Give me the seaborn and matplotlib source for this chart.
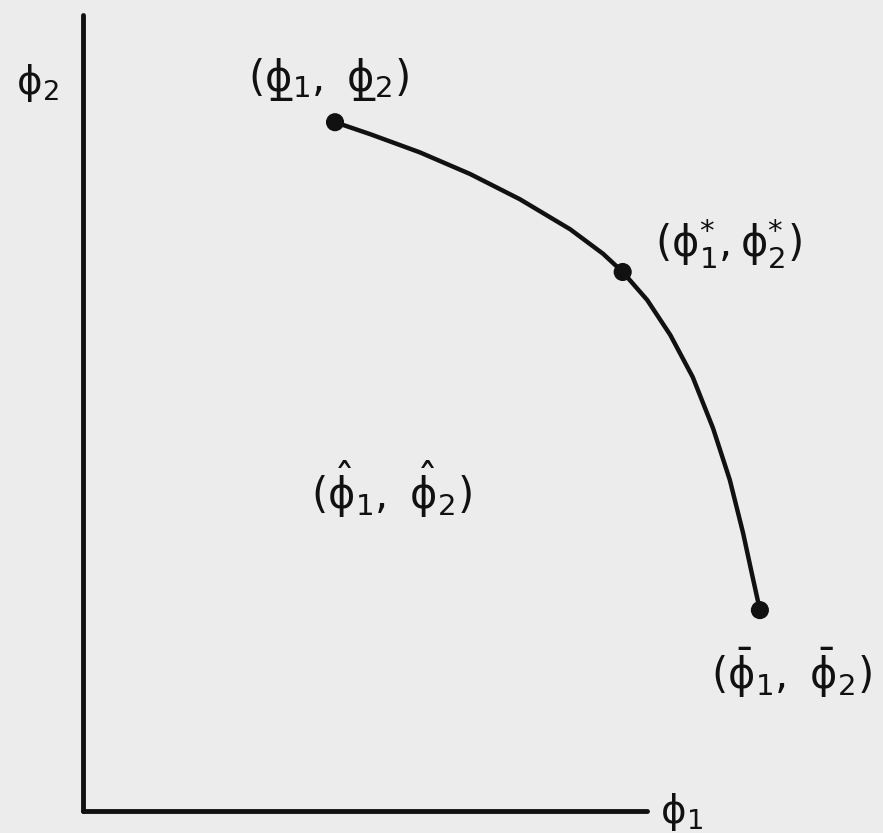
import matplotlib
matplotlib.use("Agg")
import matplotlib.pyplot as plt
from matplotlib.mathtext import MathTextParser
import seaborn as sns
import pandas as pd

# curve (phi1, phi2), 1 unit ~ 70 px
phi1 = [3.60, 4.10, 4.81, 5.53, 6.24, 6.96, 7.43, 7.71,
        8.06, 8.39, 8.71, 9.00, 9.24, 9.43, 9.56, 9.67]
phi2 = [9.84, 9.67, 9.41, 9.10, 8.74, 8.31, 7.96, 7.70,
        7.30, 6.80, 6.20, 5.47, 4.73, 3.97, 3.37, 2.87]

# marked points: lower bounds, compromise, upper bounds
pt_names = ["under", "star", "bar"]
pt_phi1 = [3.60, 7.71, 9.67]
pt_phi2 = [9.84, 7.70, 2.87]

labels = {
    "under": "$(\\phi\u0332_1,\\ \\phi\u0332_2)$",
    "star": r"$(\phi_1^{*},\phi_2^{*})$",
    "bar": r"$(\bar{\phi}_1,\ \bar{\phi}_2)$",
    "hat": r"$(\hat{\phi}_1,\ \hat{\phi}_2)$",
}
label_pos = {
    "under": (3.50, 10.45),
    "star": (9.22, 8.10),
    "bar": (10.12, 1.97),
    "hat": (4.40, 4.60),
}

sns.set_style("white")
plt.rcParams["mathtext.fontset"] = "dejavusans"
plt.rcParams["mathtext.default"] = "regular"

# fall back to plain unicode text if mathtext can't take the combining line
try:
    MathTextParser("agg").parse(labels["under"], 100)
except Exception:
    labels["under"] = "(\u03d5\u0332\u2081,  \u03d5\u0332\u2082)"

curve = pd.DataFrame({"phi1": phi1, "phi2": phi2})
pts = pd.DataFrame({"name": pt_names, "phi1": pt_phi1, "phi2": pt_phi2})

fig = plt.figure(figsize=(8.83, 8.33), dpi=100)
fig.patch.set_facecolor("#ececec")
ax = fig.add_axes([0, 0, 1, 1])
ax.set_facecolor("#ececec")

sns.lineplot(data=curve, x="phi1", y="phi2", sort=False, color="#111111",
             linewidth=3.2, ax=ax)
sns.scatterplot(data=pts, x="phi1", y="phi2", color="#111111", s=170,
                edgecolor="none", ax=ax, zorder=3)

for key, txt in labels.items():
    x, y = label_pos[key]
    ax.text(x, y, txt, fontsize=30, ha="center", va="center", color="#111111")

ax.text(-0.65, 10.4, r"$\phi_2$", fontsize=28, ha="center", va="center",
        color="#111111")
ax.text(8.55, -0.02, r"$\phi_1$", fontsize=28, ha="center", va="center",
        color="#111111")

ax.set_xlim(-83 / 70, 800 / 70)
ax.set_ylim(-22 / 70, 811 / 70)
ax.spines["left"].set_position(("data", 0))
ax.spines["bottom"].set_position(("data", 0))
ax.spines["left"].set_bounds(0, 11.37)
ax.spines["bottom"].set_bounds(0, 8.06)
for s in ["left", "bottom"]:
    ax.spines[s].set_linewidth(3.5)
    ax.spines[s].set_color("#111111")
    ax.spines[s].set_capstyle("round")
for s in ["top", "right"]:
    ax.spines[s].set_visible(False)
ax.set_xticks([])
ax.set_yticks([])
ax.set_xlabel("")
ax.set_ylabel("")

fig.savefig("out.png", dpi=100, facecolor=fig.get_facecolor())
